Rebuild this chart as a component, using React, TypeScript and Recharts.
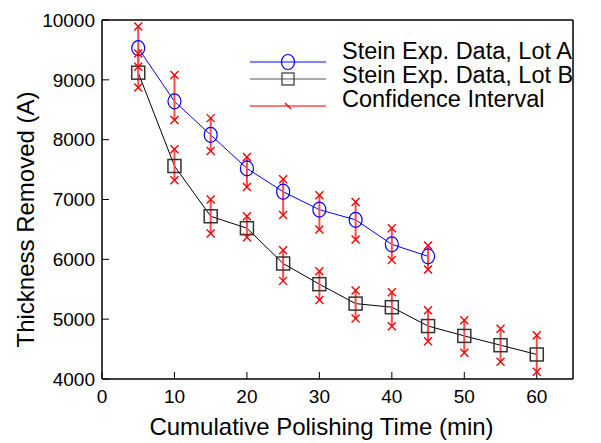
import React from 'react';
import { LineChart, Line, XAxis, YAxis, ErrorBar, Legend, Label } from 'recharts';

const times = [5, 10, 15, 20, 25, 30, 35, 40, 45, 50, 55, 60];
const lotA = [9530, 8640, 8080, 7520, 7130, 6830, 6660, 6250, 6050];
const lotAHigh = [9890, 9080, 8360, 7710, 7340, 7070, 6960, 6520, 6230];
const lotALow = [9220, 8330, 7810, 7210, 6740, 6500, 6330, 5990, 5830];
const lotB = [9120, 7560, 6720, 6520, 5930, 5585, 5260, 5200, 4885, 4720, 4565, 4410];
const lotBHigh = [9440, 7840, 7000, 6720, 6150, 5800, 5480, 5450, 5150, 4980, 4840, 4730];
const lotBLow = [8870, 7320, 6430, 6370, 5640, 5320, 5010, 4880, 4630, 4440, 4290, 4120];
const xTicks = [0, 10, 20, 30, 40, 50, 60];
const yTicks = [4000, 5000, 6000, 7000, 8000, 9000, 10000];
const legendLabels = ['Stein Exp. Data, Lot A', 'Stein Exp. Data, Lot B', 'Confidence Interval'];

const data = times.map((t, i) => ({
  t,
  a: lotA[i],
  aHigh: lotAHigh[i],
  aLow: lotALow[i],
  aErr: lotA[i] != null ? [lotA[i] - lotALow[i], lotAHigh[i] - lotA[i]] : undefined,
  b: lotB[i],
  bHigh: lotBHigh[i],
  bLow: lotBLow[i],
  bErr: [lotB[i] - lotBLow[i], lotBHigh[i] - lotB[i]],
}));

const FONT = '"Liberation Sans", Arial, sans-serif';

const CircleDot = (props: any) => {
  const { cx, cy } = props;
  if (cx == null || cy == null) return null;
  return <ellipse cx={cx} cy={cy} rx={6.5} ry={7.5} fill="none" stroke="#0000ff" strokeWidth={1.2} />;
};

const SquareDot = (props: any) => {
  const { cx, cy } = props;
  if (cx == null || cy == null) return null;
  return <rect x={cx - 6.5} y={cy - 6.5} width={13} height={13} fill="none" stroke="#333" strokeWidth={1.5} />;
};

const CrossDot = (props: any) => {
  const { cx, cy } = props;
  if (cx == null || cy == null) return null;
  const s = 4;
  return (
    <path
      d={`M${cx - s},${cy - s}L${cx + s},${cy + s}M${cx + s},${cy - s}L${cx - s},${cy + s}`}
      stroke="#ff0000"
      strokeWidth={1.4}
      fill="none"
    />
  );
};

const LegendBox = () => (
  <svg width={361} height={90} style={{ display: 'block', overflow: 'visible' }}>
    <line x1={10} y1={32} x2={86} y2={32} stroke="#0000ff" strokeWidth={1} />
    <ellipse cx={48} cy={32} rx={6.5} ry={7.5} fill="none" stroke="#0000ff" strokeWidth={1.2} />
    <line x1={10} y1={49} x2={86} y2={49} stroke="#555" strokeWidth={1.2} />
    <rect x={42} y={43} width={12} height={12} fill="none" stroke="#333" strokeWidth={1.2} />
    <line x1={10} y1={76} x2={86} y2={76} stroke="#ff4d4d" strokeWidth={1.5} />
    <line x1={45} y1={73} x2={51} y2={79} stroke="#ff0000" strokeWidth={1.2} />
    {legendLabels.map((l, i) => (
      <text key={l} x={102} y={29 + i * 24} fontSize={23.5} fontFamily={FONT} fill="#000">
        {l}
      </text>
    ))}
  </svg>
);

export default function App() {
  return (
    <div style={{ position: 'absolute', left: 0, top: 0, fontFamily: FONT }}>
      <LineChart width={601} height={443} data={data} margin={{ top: 19, right: 27, bottom: 0, left: 0 }}>
        <XAxis
          dataKey="t"
          type="number"
          domain={[0, 65]}
          ticks={xTicks}
          height={64}
          tickSize={-7}
          tickMargin={18}
          tick={{ fill: '#000', fontSize: 19, fontFamily: FONT }}
          axisLine={{ stroke: '#000', strokeWidth: 1.5 }}
          tickLine={{ stroke: '#000' }}
        >
          <Label
            value="Cumulative Polishing Time (min)"
            position="insideBottom"
            offset={8}
            dx={-16}
            style={{ fontSize: 24, fill: '#000', fontFamily: FONT }}
          />
        </XAxis>
        <XAxis
          xAxisId="top"
          dataKey="t"
          orientation="top"
          type="number"
          domain={[0, 65]}
          ticks={xTicks}
          height={1}
          tickSize={-7}
          tick={false}
          axisLine={{ stroke: '#000', strokeWidth: 1.5 }}
          tickLine={{ stroke: '#000' }}
        />
        <YAxis
          type="number"
          domain={[4000, 10000]}
          ticks={yTicks}
          width={102}
          tickSize={-7}
          tickMargin={14}
          tick={{ fill: '#000', fontSize: 19, fontFamily: FONT }}
          axisLine={{ stroke: '#000', strokeWidth: 1.5 }}
          tickLine={{ stroke: '#000' }}
        >
          <Label
            content={({ viewBox }: any) => {
              const x = viewBox.x + 25;
              const y = viewBox.y + viewBox.height / 2 + 20;
              return (
                <text
                  x={x}
                  y={y}
                  transform={`rotate(-90, ${x}, ${y})`}
                  textAnchor="middle"
                  dominantBaseline="central"
                  fontSize={24}
                  fontFamily={FONT}
                  fill="#000"
                >
                  Thickness Removed (A)
                </text>
              );
            }}
          />
        </YAxis>
        <YAxis
          yAxisId="right"
          orientation="right"
          type="number"
          domain={[4000, 10000]}
          ticks={yTicks}
          width={1}
          tickSize={-7}
          tick={false}
          axisLine={{ stroke: '#000', strokeWidth: 1.5 }}
          tickLine={{ stroke: '#000' }}
        />
        <Legend
          layout="vertical"
          verticalAlign="middle"
          align="center"
          content={() => <LegendBox />}
          wrapperStyle={{ left: 240, top: 30, width: 361 }}
        />
        <Line dataKey="b" stroke="#000" strokeWidth={1} dot={<SquareDot />} isAnimationActive={false} />
        <Line dataKey="a" stroke="#0000ff" strokeWidth={1} dot={<CircleDot />} isAnimationActive={false} />
        <Line dataKey="a" stroke="none" dot={false} isAnimationActive={false}>
          <ErrorBar dataKey="aErr" width={0} stroke="#ff4d4d" strokeWidth={2} direction="y" />
        </Line>
        <Line dataKey="b" stroke="none" dot={false} isAnimationActive={false}>
          <ErrorBar dataKey="bErr" width={0} stroke="#ff4d4d" strokeWidth={2} direction="y" />
        </Line>
        <Line dataKey="aHigh" stroke="none" dot={<CrossDot />} isAnimationActive={false} />
        <Line dataKey="aLow" stroke="none" dot={<CrossDot />} isAnimationActive={false} />
        <Line
          dataKey="bHigh"
          xAxisId="top"
          yAxisId="right"
          stroke="none"
          dot={<CrossDot />}
          isAnimationActive={false}
        />
        <Line dataKey="bLow" stroke="none" dot={<CrossDot />} isAnimationActive={false} />
      </LineChart>
    </div>
  );
}
